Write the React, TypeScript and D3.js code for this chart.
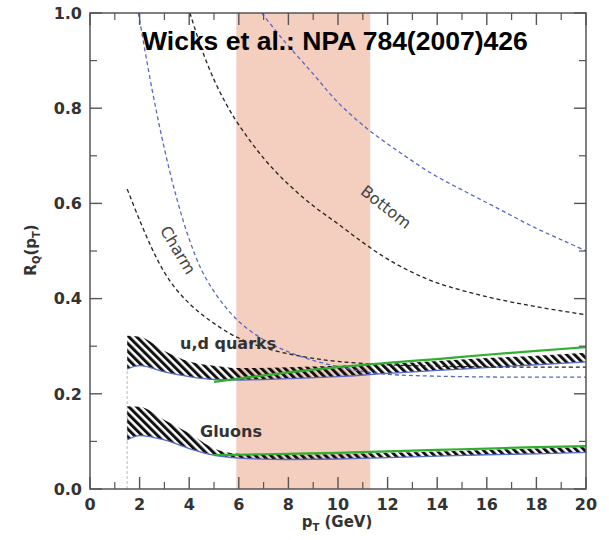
import React from "react";
import * as d3 from "d3";

// ---------- data ----------
const xTicks = [0, 2, 4, 6, 8, 10, 12, 14, 16, 18, 20];
const yTicks = [0, 0.2, 0.4, 0.6, 0.8, 1.0];
const shadeRange = [5.9, 11.3];

const bandPt = [1.5, 2, 3, 4, 5, 6, 8, 10, 12, 14, 16, 18, 20];
const udUpper = [0.322, 0.32, 0.29, 0.268, 0.259, 0.254, 0.256, 0.259, 0.263, 0.269, 0.275, 0.28, 0.286];
const udLower = [0.252, 0.259, 0.246, 0.236, 0.23, 0.229, 0.232, 0.236, 0.243, 0.249, 0.255, 0.261, 0.267];
const gluUpper = [0.174, 0.173, 0.145, 0.117, 0.085, 0.074, 0.072, 0.073, 0.076, 0.079, 0.082, 0.085, 0.088];
const gluLower = [0.103, 0.112, 0.103, 0.085, 0.071, 0.065, 0.062, 0.063, 0.066, 0.069, 0.072, 0.074, 0.077];

const greenPt = [5, 6, 8, 10, 12, 14, 16, 18, 20];
const udGreen = [0.225, 0.232, 0.245, 0.256, 0.265, 0.273, 0.282, 0.29, 0.298];
const gluGreen = [0.071, 0.072, 0.074, 0.076, 0.079, 0.082, 0.085, 0.088, 0.09];

const charmBlackPt = [1.5, 2, 2.5, 3, 3.5, 4, 4.5, 5, 5.8, 7, 8.5, 10, 12, 14, 17, 20];
const charmBlack = [0.63, 0.565, 0.505, 0.455, 0.418, 0.39, 0.367, 0.348, 0.322, 0.297, 0.279, 0.268, 0.261, 0.258, 0.256, 0.256];

const charmBluePt = [1.95, 2.5, 3, 3.5, 4, 4.5, 5, 5.5, 6, 6.6, 7.3, 8, 9, 10, 11, 12, 14, 17, 20];
const charmBlue = [1.0, 0.84, 0.715, 0.61, 0.525, 0.46, 0.415, 0.38, 0.352, 0.327, 0.305, 0.288, 0.27, 0.257, 0.247, 0.241, 0.237, 0.235, 0.235];

const bottomBluePt = [6.92, 7.8, 9, 10, 11.2, 12.5, 13.8, 15.2, 16.5, 17.9, 19.2, 20];
const bottomBlue = [1.0, 0.943, 0.872, 0.812, 0.756, 0.707, 0.662, 0.623, 0.588, 0.55, 0.519, 0.5];

const bottomBlackPt = [4.03, 4.5, 5, 5.5, 6, 7, 8, 9, 10, 11, 12, 13, 14, 16, 18, 20];
const bottomBlack = [1.0, 0.925, 0.86, 0.808, 0.765, 0.695, 0.64, 0.595, 0.557, 0.518, 0.483, 0.455, 0.433, 0.404, 0.383, 0.366];

// ---------- layout ----------
const W = 609, H = 540;
const x = d3.scaleLinear().domain([0, 20]).range([90, 586]);
const y = d3.scaleLinear().domain([0, 1]).range([489, 13]);

const BOLD = "'DejaVu Sans', sans-serif";

function linePath(px: number[], py: number[]) {
  const g = d3.line<number>().x((_, i) => x(px[i])).y((d) => y(d)).curve(d3.curveCatmullRom.alpha(0.5));
  return g(py) || "";
}
function areaPath(px: number[], lo: number[], hi: number[]) {
  const a = d3.area<number>()
    .x((_, i) => x(px[i]))
    .y0((_, i) => y(lo[i]))
    .y1((_, i) => y(hi[i]))
    .curve(d3.curveMonotoneX);
  return a(px) || "";
}
function bandEdge(px: number[], py: number[]) {
  const g = d3.line<number>().x((_, i) => x(px[i])).y((d) => y(d)).curve(d3.curveMonotoneX);
  return g(py) || "";
}

export default function App() {
  const [x0, x1] = x.range();
  const [yb, yt] = y.range();
  const minorX = d3.range(1, 20, 2);
  const minorY = d3.range(0.1, 1.0, 0.2);
  const blue = "#5668c9";
  const blk = "#222";
  const green = "#2fae2f";
  return (
    <svg width={W} height={H} style={{ position: "absolute", left: 0, top: 0, background: "#fff" }}>
      <defs>
        <clipPath id="plot">
          <rect x={x0} y={yt} width={x1 - x0} height={yb - yt} />
        </clipPath>
        <pattern id="hatch" patternUnits="userSpaceOnUse" width={5.5} height={5.5} patternTransform="rotate(-45)">
          <rect x={0} y={0} width={3} height={5.5} fill="#111" />
        </pattern>
      </defs>

      {/* shaded pT range */}
      <rect x={x(shadeRange[0])} y={yt} width={x(shadeRange[1]) - x(shadeRange[0])} height={yb - yt} fill="#f4cebf" />

      <g clipPath="url(#plot)">
        {/* vertical dashed at pT=1.5 */}
        <line x1={x(1.5)} x2={x(1.5)} y1={y(0)} y2={y(udLower[0])} stroke="#bbb" strokeWidth={1} strokeDasharray="3,2" />

        {/* bands */}
        <path d={areaPath(bandPt, udLower, udUpper)} fill="url(#hatch)" />
        <path d={areaPath(bandPt, gluLower, gluUpper)} fill="url(#hatch)" />
        <path d={bandEdge(bandPt, udLower)} fill="none" stroke={blue} strokeWidth={1.3} />
        <path d={bandEdge(bandPt, gluLower)} fill="none" stroke={blue} strokeWidth={1.3} />

        {/* dashed curves */}
        <path d={linePath(charmBlackPt, charmBlack)} fill="none" stroke={blk} strokeWidth={1.3} strokeDasharray="4,3" />
        <path d={linePath(charmBluePt, charmBlue)} fill="none" stroke={blue} strokeWidth={1.3} strokeDasharray="4,3" />
        <path d={linePath(bottomBlackPt, bottomBlack)} fill="none" stroke={blk} strokeWidth={1.3} strokeDasharray="4,3" />
        <path d={linePath(bottomBluePt, bottomBlue)} fill="none" stroke={blue} strokeWidth={1.3} strokeDasharray="4,3" />

        {/* green curves */}
        <path d={bandEdge(greenPt, udGreen)} fill="none" stroke={green} strokeWidth={2.2} />
        <path d={bandEdge(greenPt, gluGreen)} fill="none" stroke={green} strokeWidth={2.2} />
      </g>

      {/* frame */}
      <rect x={x0} y={yt} width={x1 - x0} height={yb - yt} fill="none" stroke="#555" strokeWidth={1.5} />

      {/* ticks */}
      {xTicks.map((t) => (
        <g key={"xt" + t}>
          <line x1={x(t)} x2={x(t)} y1={yb} y2={yb - 12} stroke="#555" strokeWidth={1.4} />
          <line x1={x(t)} x2={x(t)} y1={yt} y2={yt + 12} stroke="#555" strokeWidth={1.4} />
          <text x={x(t)} y={510} textAnchor="middle" fontFamily={BOLD} fontWeight="bold" fontSize={16} fill="#333">{t}</text>
        </g>
      ))}
      {minorX.map((t) => (
        <g key={"xm" + t}>
          <line x1={x(t)} x2={x(t)} y1={yb} y2={yb - 7} stroke="#555" strokeWidth={1.2} />
          <line x1={x(t)} x2={x(t)} y1={yt} y2={yt + 7} stroke="#555" strokeWidth={1.2} />
        </g>
      ))}
      {yTicks.map((t) => (
        <g key={"yt" + t}>
          <line x1={x0} x2={x0 + 12} y1={y(t)} y2={y(t)} stroke="#555" strokeWidth={1.4} />
          <line x1={x1} x2={x1 - 12} y1={y(t)} y2={y(t)} stroke="#555" strokeWidth={1.4} />
          <text x={82} y={y(t)} dy="0.36em" textAnchor="end" fontFamily={BOLD} fontWeight="bold" fontSize={16} fill="#333">{t.toFixed(1)}</text>
        </g>
      ))}
      {minorY.map((t) => (
        <g key={"ym" + t}>
          <line x1={x0} x2={x0 + 7} y1={y(t)} y2={y(t)} stroke="#555" strokeWidth={1.2} />
          <line x1={x1} x2={x1 - 7} y1={y(t)} y2={y(t)} stroke="#555" strokeWidth={1.2} />
        </g>
      ))}

      {/* axis labels */}
      <text x={337} y={527} textAnchor="middle" fontFamily={BOLD} fontWeight="bold" fontSize={15} fill="#333">
        p<tspan fontSize={10} dy={4}>T</tspan><tspan dy={-4}> (GeV)</tspan>
      </text>
      <text transform="translate(36,250) rotate(-90)" textAnchor="middle" fontFamily={BOLD} fontWeight="bold" fontSize={15} fill="#333">
        R<tspan fontSize={10} dy={4}>Q</tspan><tspan dy={-4}>(p</tspan><tspan fontSize={10} dy={4}>T</tspan><tspan dy={-4}>)</tspan>
      </text>

      {/* curve labels */}
      <text x={180} y={349} fontFamily={BOLD} fontWeight="bold" fontSize={16} fill="#333">u,d quarks</text>
      <text x={200} y={437} fontFamily={BOLD} fontWeight="bold" fontSize={16} fill="#333">Gluons</text>
      <text transform="translate(178,250) rotate(59)" textAnchor="middle" dy="0.35em" fontFamily={BOLD} fontSize={16} fill="#444">Charm</text>
      <text transform="translate(386,207) rotate(38)" textAnchor="middle" dy="0.35em" fontFamily={BOLD} fontSize={16} fill="#444">Bottom</text>

      {/* title */}
      <text x={142} y={50} fontFamily="'Liberation Sans', Arial, sans-serif" fontWeight="bold" fontSize={26.5} fill="#000">Wicks et al.: NPA 784(2007)426</text>
    </svg>
  );
}
